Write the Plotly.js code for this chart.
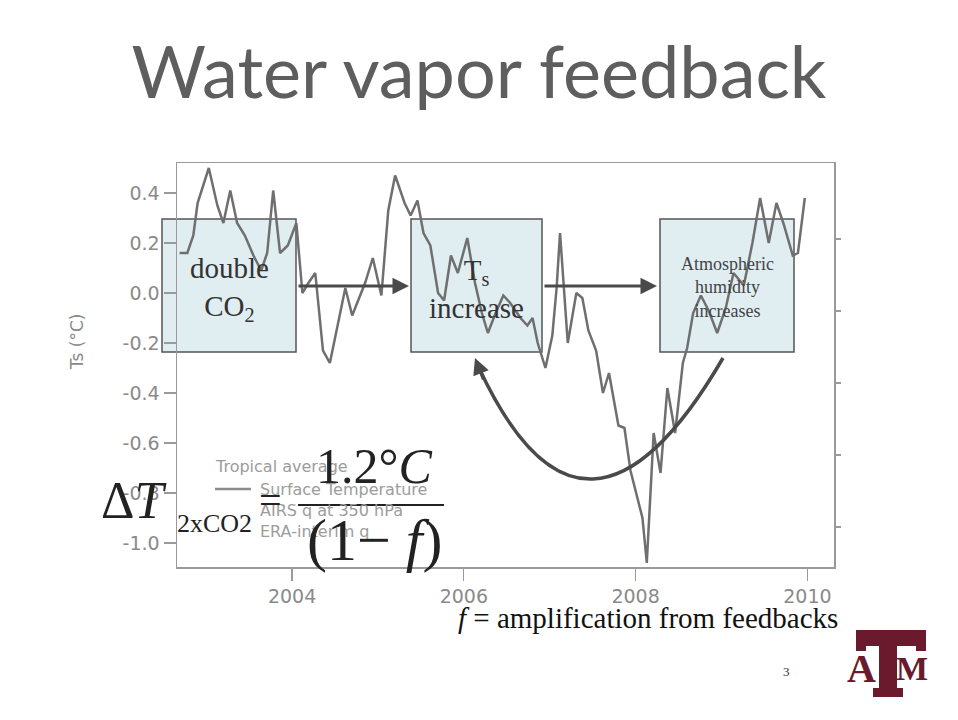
<!DOCTYPE html>
<html>
<head>
<meta charset="utf-8">
<script src="https://cdn.plot.ly/plotly-3.0.1.min.js"></script>
<style>
  html, body { margin: 0; padding: 0; background: #ffffff; }
  #chart { width: 958px; height: 720px; }
</style>
</head>
<body>
<div id="chart"></div>
<script>
// ---- data (tropical average surface temperature) ----
const years = [2002.69, 2002.78, 2002.85, 2002.90, 2003.03, 2003.13, 2003.20, 2003.28, 2003.36, 2003.45,
  2003.55, 2003.64, 2003.71, 2003.78, 2003.86, 2003.95, 2004.05, 2004.12, 2004.19, 2004.27,
  2004.36, 2004.44, 2004.62, 2004.70, 2004.85, 2004.94, 2005.04, 2005.12, 2005.20, 2005.31,
  2005.38, 2005.46, 2005.53, 2005.61, 2005.70, 2005.77, 2005.85, 2005.93, 2006.04, 2006.13,
  2006.21, 2006.28, 2006.37, 2006.46, 2006.54, 2006.66, 2006.74, 2006.80, 2006.86, 2006.95,
  2007.03, 2007.08, 2007.12, 2007.21, 2007.31, 2007.38, 2007.45, 2007.54, 2007.62, 2007.69,
  2007.80, 2007.87, 2007.94, 2008.02, 2008.08, 2008.13, 2008.21, 2008.29, 2008.37, 2008.46,
  2008.55, 2008.60, 2008.67, 2008.76, 2008.85, 2008.95, 2009.05, 2009.14, 2009.26, 2009.36,
  2009.45, 2009.55, 2009.64, 2009.72, 2009.83, 2009.89, 2009.97];
const tsValues = [0.16, 0.16, 0.23, 0.36, 0.50, 0.35, 0.28, 0.41, 0.28, 0.23,
  0.15, 0.09, 0.16, 0.41, 0.16, 0.19, 0.28, 0.00, 0.04, 0.08,
  -0.23, -0.28, 0.02, -0.09, 0.04, 0.14, -0.01, 0.33, 0.47, 0.36,
  0.31, 0.37, 0.24, 0.19, 0.00, -0.03, 0.15, 0.08, 0.22, 0.04,
  -0.08, -0.16, -0.08, -0.01, -0.04, -0.10, -0.13, -0.10, -0.20, -0.30,
  -0.17, 0.02, 0.24, -0.20, 0.00, -0.02, -0.15, -0.23, -0.40, -0.32,
  -0.53, -0.54, -0.71, -0.82, -0.90, -1.08, -0.56, -0.72, -0.38, -0.56,
  -0.28, -0.22, -0.08, -0.01, -0.07, -0.16, -0.06, 0.08, 0.03, 0.20,
  0.38, 0.20, 0.36, 0.28, 0.15, 0.16, 0.38];
const seriesNames = ['Surface Temperature', 'AIRS q at 350 hPa', 'ERA-interim q'];
const legendTitle = 'Tropical average';
const xTickVals = [2004, 2006, 2008, 2010];
const yTickVals = [-1.0, -0.8, -0.6, -0.4, -0.2, 0.0, 0.2, 0.4];
const yTickText = ['-1.0', '-0.8', '-0.6', '-0.4', '-0.2', '0.0', '0.2', '0.4'];
const y2TickVals = [0, 1, 2, 3, 4];

// ---- layout helpers (pixel -> paper, plot area 177..834 x 163..567) ----
const L = 177, R = 834, T = 163, B = 567;
const X = px => (px - L) / (R - L);
const Y = py => (B - py) / (B - T);

const serif = 'Liberation Serif, Times New Roman, serif';
const sans = 'DejaVu Sans, sans-serif';
const axisGray = '#9a9a9a';
const labelGray = '#8a8a8a';
const legendGray = '#9c9c9c';
const lineGray = '#6f6f6f';
const maroon = '#6b1a2e';

const traces = [
  { x: years, y: tsValues, type: 'scatter', mode: 'lines', name: seriesNames[0],
    line: { color: lineGray, width: 2.5 } },
  // the two humidity series of the original figure (right axis) are not visible in the picture
  { x: [], y: [], type: 'scatter', mode: 'lines', name: seriesNames[1], yaxis: 'y2',
    line: { color: 'rgba(0,0,0,0)', width: 2 } },
  { x: [], y: [], type: 'scatter', mode: 'lines', name: seriesNames[2], yaxis: 'y2',
    line: { color: 'rgba(0,0,0,0)', width: 2 } }
];

function box(x0, y0, x1, y1) {
  return { type: 'rect', xref: 'paper', yref: 'paper', x0: X(x0), x1: X(x1), y0: Y(y1), y1: Y(y0),
    fillcolor: 'rgba(205,228,234,0.62)', line: { color: '#555555', width: 1.5 }, layer: 'below' };
}
function rectP(x0, y0, x1, y1, color) {
  return { type: 'rect', xref: 'paper', yref: 'paper', x0: X(x0), x1: X(x1), y0: Y(y1), y1: Y(y0),
    fillcolor: color, line: { width: 0 }, layer: 'above' };
}
function P(px, py) { return X(px).toFixed(5) + ',' + Y(py).toFixed(5); }

const shapes = [
  box(162, 219, 296, 352),
  box(411, 219, 542, 352),
  box(660, 219, 794, 352),
  // legend line sample
  { type: 'line', xref: 'paper', yref: 'paper', x0: X(215), x1: X(251), y0: Y(489), y1: Y(489),
    line: { color: '#8c8c8c', width: 2.5 }, layer: 'above' },
  // curved feedback arrow
  { type: 'path', xref: 'paper', yref: 'paper', layer: 'above',
    path: 'M ' + P(723, 358) + ' Q ' + P(585, 595) + ' ' + P(479, 368),
    line: { color: '#4a4a4a', width: 3.5 } },
  // fraction bar
  { type: 'line', xref: 'paper', yref: 'paper', x0: X(298), x1: X(444), y0: Y(505), y1: Y(505),
    line: { color: '#222222', width: 2 }, layer: 'above' },
  // A&M logo "T"
  rectP(856, 630, 926, 646, maroon),
  rectP(856, 646, 866, 651, maroon),
  rectP(916, 646, 926, 651, maroon),
  rectP(879, 646, 897, 692, maroon),
  rectP(873, 688, 903, 697, maroon)
];

function txt(text, px, py, size, color, family, extra) {
  return Object.assign({ text: text, x: X(px), y: Y(py), xref: 'paper', yref: 'paper',
    xanchor: 'center', yanchor: 'middle', showarrow: false,
    font: { family: family || serif, size: size, color: color || '#222222' } }, extra || {});
}
function arrow(tipX, tipY, tailX, tailY) {
  return { text: '', x: X(tipX), y: Y(tipY), xref: 'paper', yref: 'paper', showarrow: true,
    ax: tailX - tipX, ay: tailY - tipY, arrowhead: 2, arrowsize: 1.1, arrowwidth: 3,
    arrowcolor: '#4a4a4a', standoff: 0, startstandoff: 0 };
}
const left = { xanchor: 'left' };

const annotations = [
  txt('Ts (°C)', 77, 342, 17, labelGray, sans, { textangle: -90 }),
  // legend of the original figure
  txt(legendTitle, 213, 466, 16, legendGray, sans, left),
  txt(seriesNames[0], 258, 489, 16, legendGray, sans, left),
  txt(seriesNames[1], 258, 510, 16, legendGray, sans, left),
  txt(seriesNames[2], 258, 531, 16, legendGray, sans, left),
  // boxes
  txt('double<br>CO<sub>2</sub>', 229, 289, 29, '#333333'),
  txt('T<sub>s</sub><br>increase', 476, 289, 29, '#333333'),
  txt('Atmospheric<br>humidity<br>increases', 727, 287, 18, '#444444'),
  arrow(409, 286, 297, 286),
  arrow(657, 286, 543, 286),
  arrow(475, 358, 484, 381),
  // equation
  txt('Δ<i>T</i>', 133, 500, 52, '#222222'),
  txt('2xCO2', 214, 523, 26, '#222222'),
  txt('=', 270, 500, 40, '#222222'),
  txt('1.2°<i>C</i>', 374, 466, 50, '#222222'),
  txt('(1− <i>f</i>)', 374, 540, 60, '#222222'),
  txt('<i>f</i> = amplification from feedbacks', 648, 618, 29, '#111111'),
  txt('3', 786, 671, 13, '#333333'),
  txt('<b>A</b>', 861, 668, 40, maroon),
  txt('<b>M</b>', 912, 668, 34, maroon)
];

const layout = {
  width: 958, height: 720,
  margin: { l: L, r: 958 - R, t: T, b: 720 - B, pad: 0 },
  paper_bgcolor: '#ffffff', plot_bgcolor: '#ffffff',
  title: { text: 'Water vapor feedback', x: 0.5, xanchor: 'center', y: 1 - 73 / 720, yanchor: 'middle',
    yref: 'container', font: { family: 'Lato, Open Sans, sans-serif', size: 72, color: '#5e5e5e' } },
  showlegend: false,
  xaxis: { range: [2002.66, 2010.31], tickvals: xTickVals, ticktext: xTickVals.map(String),
    showline: true, mirror: true, linecolor: axisGray, linewidth: 1.5,
    ticks: 'outside', ticklen: 12, tickcolor: axisGray, tickwidth: 1.2,
    showgrid: false, zeroline: false,
    tickfont: { family: sans, size: 19, color: labelGray } },
  yaxis: { range: [-1.096, 0.52], tickvals: yTickVals, ticktext: yTickText,
    showline: true, mirror: true, linecolor: axisGray, linewidth: 1.5,
    ticks: 'outside', ticklen: 12, tickcolor: axisGray, tickwidth: 1.2,
    showgrid: false, zeroline: false,
    tickfont: { family: sans, size: 19, color: labelGray } },
  yaxis2: { overlaying: 'y', side: 'right', range: [-0.5556, 5.0556], tickvals: y2TickVals,
    showticklabels: false, ticks: 'outside', ticklen: 6, tickcolor: axisGray, tickwidth: 1.2,
    showline: false, showgrid: false, zeroline: false },
  shapes: shapes,
  annotations: annotations
};

Plotly.newPlot('chart', traces, layout, { displayModeBar: false, staticPlot: true });
</script>
</body>
</html>
